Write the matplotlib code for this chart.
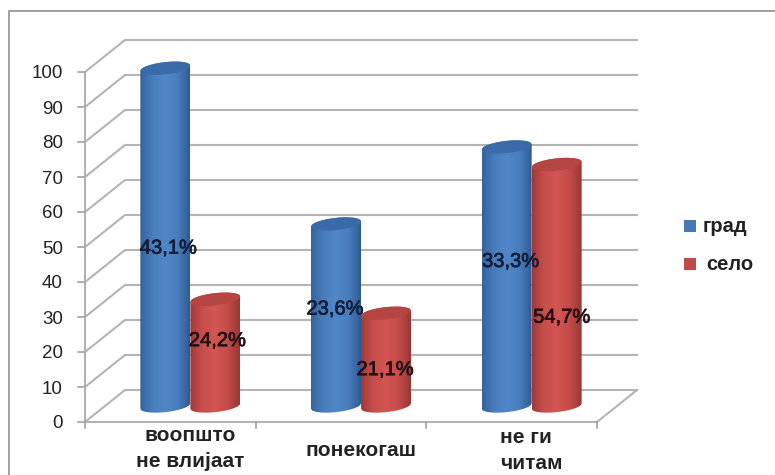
import numpy as np
import matplotlib
matplotlib.use('Agg')
import matplotlib.pyplot as plt
from matplotlib.patches import Polygon, Rectangle
from matplotlib.colors import LinearSegmentedColormap
import matplotlib.patheffects as pe

categories = ['воопшто\nне влијаат', 'понекогаш', 'не ги\nчитам']
series_names = ['град', 'село']
grad_values = [96.5, 52, 74]
selo_values = [30.5, 26.5, 69]
grad_labels = ['43,1%', '23,6%', '33,3%']
selo_labels = ['24,2%', '21,1%', '54,7%']
y_ticks = list(range(0, 101, 10))

plt.rcParams['font.family'] = ['Liberation Sans', 'DejaVu Sans']

# one axes over the whole figure, front plane: x = category units, y = value
px_x = 170.67   # pixels per category
px_y = 3.5      # pixels per value unit
x0, y0 = 85, 422
depth_x = 40 / px_x
depth_y = 32 / px_y
bar_w = 50 / px_x
ell_h = 3.5
tilt = 0.75

fig = plt.figure(figsize=(7.75, 4.75), dpi=100)
ax = fig.add_axes([0, 0, 1, 1])
ax.axis('off')
xlim = (-x0 / px_x, (775 - x0) / px_x)
ylim = ((y0 - 475) / px_y, y0 / px_y)

grid_c = '#b4b4b4'
n = len(categories)

# outer frame, only left and top show
ax.plot([0.012, 0.012, 1], [0, 0.976, 0.976], transform=ax.transAxes, color='#a0a0a0', lw=1.4)

# walls
for v in y_ticks:
    ax.plot([0, depth_x, n + depth_x], [v, v + depth_y, v + depth_y], color=grid_c, lw=1.5, zorder=1)
    ax.plot([-7 / px_x, 0], [v, v], color='#999999', lw=1.1, zorder=1)
    ax.text(-22 / px_x, v - 2 / px_y, str(v), ha='right', va='center', fontsize=13.5, color='#222222')
ax.plot([0, 0], [0, 100], color='#aaaaaa', lw=1.3, zorder=1)
ax.plot([0, n, n + depth_x], [0, 0, depth_y], color=grid_c, lw=1.5, zorder=1)
for i in range(n + 1):
    ax.plot([i, i], [0, -6 / px_y], color='#999999', lw=1.1, zorder=1)


def cylinder(xc, val, cmap, top_col, z):
    base = depth_y / 2
    xs = np.linspace(-1, 1, 60)
    top = base + val
    arc = np.sqrt(1 - xs ** 2) * ell_h / 2
    xx = xc + xs * bar_w / 2
    # ellipses lean a little, left side lower than the right
    lean = xs * tilt
    body = np.r_[np.c_[xx, base + lean - arc], np.c_[xx[::-1], top + lean[::-1] + arc[::-1]]]
    poly = Polygon(body, closed=True, fc='none', ec='none', zorder=z)
    ax.add_patch(poly)
    grad = np.linspace(0, 1, 128).reshape(1, -1)
    im = ax.imshow(grad, extent=(xc - bar_w / 2, xc + bar_w / 2, base - ell_h * 2, top + ell_h * 2),
                   cmap=cmap, aspect='auto', zorder=z)
    im.set_clip_path(poly)
    lid = np.r_[np.c_[xx, top + lean - arc], np.c_[xx[::-1], top + lean[::-1] + arc[::-1]]]
    ax.add_patch(Polygon(lid, closed=True, fc=top_col, ec='none', zorder=z + 0.1))


blue = LinearSegmentedColormap.from_list('b', ['#35639f', '#4a7dbd', '#5087c8', '#4a7ebe', '#2f5b94'])
red = LinearSegmentedColormap.from_list('r', ['#a03a38', '#c94f4c', '#d25653', '#c64c49', '#983735'])

for i in range(n):
    xc = i + 0.5 + depth_x / 2
    cylinder(xc - bar_w / 2, grad_values[i], blue, '#3a6ba8', 3)
    cylinder(xc + bar_w / 2, selo_values[i], red, '#b54543', 4)

# data labels, not quite on the middle of the cylinders
grad_shift = [(3, -11), (-1, 6), (4, 15)]
selo_shift = [(2, 12), (-1, -10), (5, -32)]
heavy = [pe.withStroke(linewidth=0.5, foreground='#1a1a2a')]
for i in range(n):
    xc = i + 0.5 + depth_x / 2
    dx, dy = grad_shift[i]
    ax.text(xc - bar_w / 2 + dx / px_x, grad_values[i] / 2 + depth_y / 2 + dy / px_y, grad_labels[i],
            ha='center', va='center', fontsize=14.5, color='#10203f', zorder=6, path_effects=heavy)
    dx, dy = selo_shift[i]
    ax.text(xc + bar_w / 2 + dx / px_x, selo_values[i] / 2 + depth_y / 2 + dy / px_y, selo_labels[i],
            ha='center', va='center', fontsize=14.5, color='#2a0c10', zorder=6, path_effects=heavy)

cat_y = [426, 451, 428]
for i in range(n):
    ax.text(i + 0.5 + depth_x / 2, (y0 - cat_y[i]) / px_y, categories[i], ha='center',
            va='top' if '\n' in categories[i] else 'center', fontsize=15, fontweight='bold',
            color='#222222', linespacing=1.45, multialignment='left' if i == 2 else 'center')

# legend
leg_x = (684 - x0) / px_x
for name, col, ly, tx in zip(series_names, ['#4478b8', '#bf4b48'], [226, 264], [703, 706]):
    yv = (y0 - ly) / px_y
    ax.add_patch(Rectangle((leg_x, yv - 6 / px_y), 12 / px_x, 12 / px_y, fc=col, ec='none'))
    ax.text((tx - x0) / px_x, yv, name, ha='left', va='center',
            fontsize=14.5, fontweight='bold', color='#222222')

ax.set_xlim(xlim)
ax.set_ylim(ylim)
fig.savefig('out.png', dpi=100)
